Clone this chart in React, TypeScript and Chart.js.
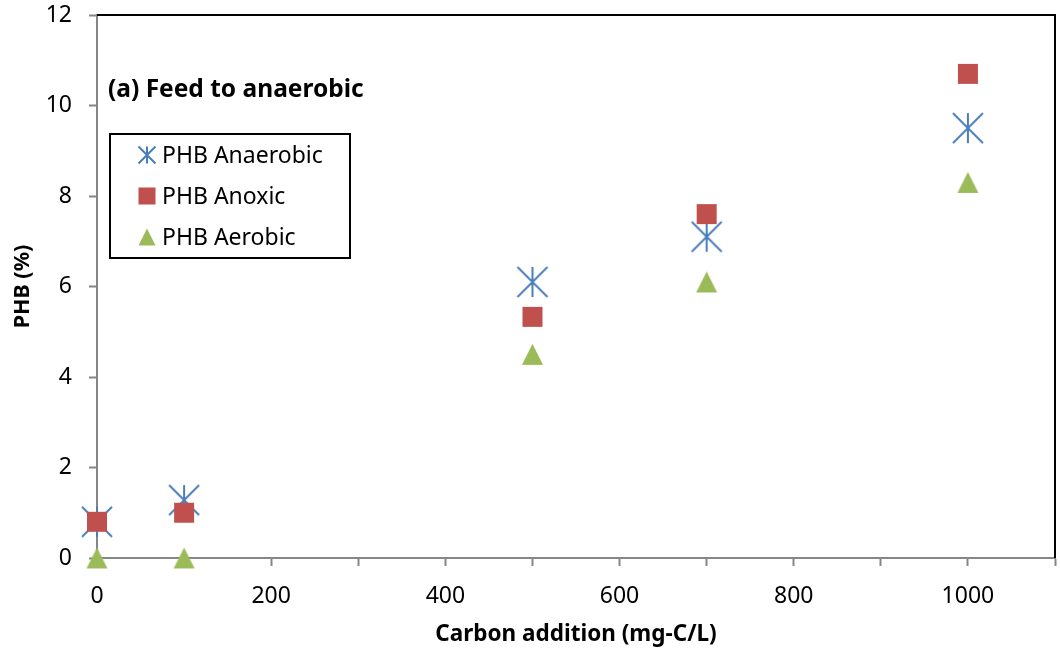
import React, { useEffect, useRef } from "react";
import { Chart, registerables } from "chart.js";

Chart.register(...registerables);

// Carbon dose (mg-C/L) and PHB content (%) for each phase
const carbonAddition = [0, 100, 500, 700, 1000];
const phbAnaerobic = [0.8, 1.28, 6.1, 7.1, 9.5];
const phbAnoxic = [0.8, 1.0, 5.33, 7.6, 10.7];
const phbAerobic = [0, 0, 4.5, 6.1, 8.3];

const seriesNames = ["PHB Anaerobic", "PHB Anoxic", "PHB Aerobic"];
const yTicks = [0, 2, 4, 6, 8, 10, 12];
const panelTitle = "(a) Feed to anaerobic";
const xTitle = "Carbon addition (mg-C/L)";
const yTitle = "PHB (%)";

const BLUE = "#4A7EBB";
const RED = "#C0504D";
const GREEN = "#9BBB59";
const AXIS_GRAY = "#868686";
const FONT = "'Noto Sans', 'Open Sans', sans-serif";

type Shape = "star" | "square" | "triangle";

function drawShape(ctx: CanvasRenderingContext2D, shape: Shape, cx: number, cy: number, size: number) {
  const h = size / 2;
  if (shape === "star") {
    ctx.strokeStyle = BLUE;
    ctx.lineWidth = 2;
    ctx.beginPath();
    ctx.moveTo(cx, cy - h);
    ctx.lineTo(cx, cy + h);
    ctx.moveTo(cx - h, cy - h);
    ctx.lineTo(cx + h, cy + h);
    ctx.moveTo(cx + h, cy - h);
    ctx.lineTo(cx - h, cy + h);
    ctx.stroke();
  } else if (shape === "square") {
    ctx.fillStyle = RED;
    ctx.fillRect(cx - h, cy - h, size, size);
  } else {
    ctx.fillStyle = GREEN;
    ctx.beginPath();
    ctx.moveTo(cx, cy - h);
    ctx.lineTo(cx + h, cy + h);
    ctx.lineTo(cx - h, cy + h);
    ctx.closePath();
    ctx.fill();
  }
}

function makeMarker(shape: Shape, size: number): HTMLCanvasElement {
  const pad = 2;
  const c = document.createElement("canvas");
  c.width = size + pad * 2;
  c.height = size + pad * 2;
  const ctx = c.getContext("2d")!;
  drawShape(ctx, shape, c.width / 2, c.height / 2, size);
  return c;
}

export default function App() {
  const canvasRef = useRef<HTMLCanvasElement | null>(null);

  useEffect(() => {
    document.body.style.margin = "0";
    const canvas = canvasRef.current;
    if (!canvas) return;

    const shapes: Shape[] = ["star", "square", "triangle"];

    const framePlugin = {
      id: "frame",
      afterDatasetsDraw(chart: any) {
        const { ctx, chartArea } = chart;
        const { left, top, right, bottom } = chartArea;
        ctx.save();
        // black top/right frame
        ctx.strokeStyle = "#000";
        ctx.lineWidth = 2;
        ctx.beginPath();
        ctx.moveTo(left, top);
        ctx.lineTo(right, top);
        ctx.lineTo(right, bottom);
        ctx.stroke();

        // panel title
        ctx.fillStyle = "#000";
        ctx.font = `bold 24.5px ${FONT}`;
        ctx.textBaseline = "middle";
        ctx.textAlign = "left";
        ctx.fillText(panelTitle, 108, 90);

        // legend box
        ctx.fillStyle = "#fff";
        ctx.fillRect(110, 134, 240, 124);
        ctx.strokeStyle = "#000";
        ctx.lineWidth = 2;
        ctx.strokeRect(110, 134, 240, 124);
        const rows = [155, 196, 237];
        ctx.font = `23px ${FONT}`;
        seriesNames.forEach((name, i) => {
          drawShape(ctx, shapes[i], 147, rows[i], 17);
          ctx.fillStyle = "#000";
          ctx.textBaseline = "middle";
          ctx.fillText(name, 162, rows[i] + 1);
        });
        ctx.restore();
      },
    };

    const chart = new Chart(canvas, {
      type: "scatter",
      data: {
        datasets: [
          {
            label: seriesNames[0],
            data: carbonAddition.map((x, i) => ({ x, y: phbAnaerobic[i] })),
            pointStyle: makeMarker("star", 30),
            order: 3,
            clip: false,
          },
          {
            label: seriesNames[1],
            data: carbonAddition.map((x, i) => ({ x, y: phbAnoxic[i] })),
            pointStyle: makeMarker("square", 20),
            order: 2,
            clip: false,
          },
          {
            label: seriesNames[2],
            data: carbonAddition.map((x, i) => ({ x, y: phbAerobic[i] })),
            pointStyle: makeMarker("triangle", 21),
            order: 1,
            clip: false,
          },
        ],
      },
      options: {
        responsive: false,
        animation: false,
        layout: { padding: { top: 15, right: 2, left: 0, bottom: 0 } },
        plugins: {
          legend: { display: false },
          tooltip: { enabled: false },
        },
        scales: {
          x: {
            type: "linear",
            min: 0,
            max: 1100,
            afterFit(scale: any) {
              scale.height = 94;
              scale.paddingLeft = 0;
              scale.paddingRight = 0;
            },
            ticks: {
              stepSize: 100,
              autoSkip: false,
              maxRotation: 0,
              color: "#000",
              font: { family: FONT, size: 23 },
              padding: 17,
              callback: (v: any) => (Number(v) % 200 === 0 && Number(v) <= 1000 ? String(v) : ""),
            },
            grid: {
              drawOnChartArea: false,
              drawTicks: true,
              tickLength: 8,
              tickColor: AXIS_GRAY,
              tickWidth: 2,
            },
            border: { display: true, color: AXIS_GRAY, width: 2 },
            title: {
              display: true,
              text: xTitle,
              color: "#000",
              font: { family: FONT, size: 22.5, weight: "bold" },
              padding: { top: 0, bottom: 4 },
            },
          },
          y: {
            type: "linear",
            min: 0,
            max: 12,
            afterFit(scale: any) {
              scale.width = 97;
              scale.paddingTop = 0;
              scale.paddingBottom = 0;
            },
            afterBuildTicks(scale: any) {
              scale.ticks = yTicks.map((value) => ({ value }));
            },
            ticks: {
              color: "#000",
              font: { family: FONT, size: 23 },
              padding: 17,
            },
            grid: {
              drawOnChartArea: false,
              drawTicks: true,
              tickLength: 8,
              tickColor: AXIS_GRAY,
              tickWidth: 2,
            },
            border: { display: true, color: AXIS_GRAY, width: 2 },
            title: {
              display: true,
              text: yTitle,
              color: "#000",
              font: { family: FONT, size: 21.5, weight: "bold" },
              padding: { top: 10, bottom: 0 },
            },
          },
        },
      },
      plugins: [framePlugin],
    });

    return () => chart.destroy();
  }, []);

  return (
    <div style={{ width: 1060, height: 652, background: "#fff" }}>
      <canvas ref={canvasRef} width={1060} height={652} />
    </div>
  );
}
